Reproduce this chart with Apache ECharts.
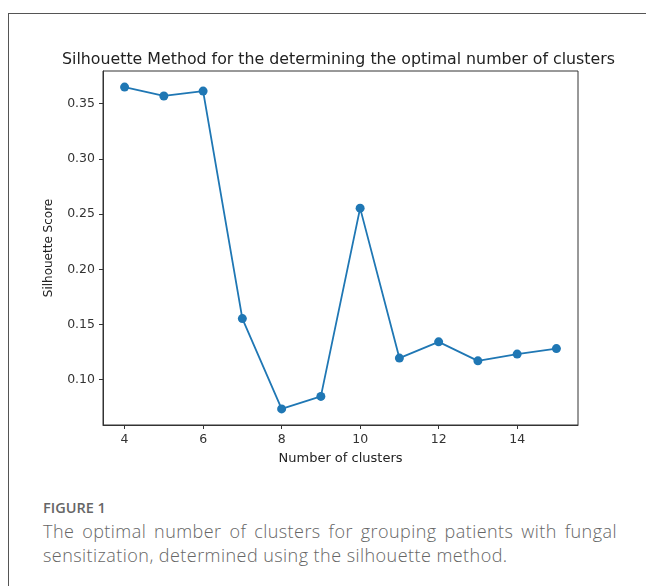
<!DOCTYPE html>
<html>
<head>
<meta charset="utf-8">
<script src="https://cdn.jsdelivr.net/npm/echarts@6/dist/echarts.min.js"></script>
<style>
  html, body { margin: 0; padding: 0; background: #fff; }
  #wrap { position: relative; width: 646px; height: 586px; overflow: hidden; }
  #frame { position: absolute; left: 8px; top: 13px; width: 700px; height: 700px;
           border-left: 1px solid #555; border-top: 1px solid #555; }
  #chart { position: absolute; left: 0; top: 0; width: 646px; height: 480px; }
  #figLabel { position: absolute; left: 43px; top: 498px; font-family: "Open Sans", sans-serif;
              font-weight: 600; font-size: 14.5px; line-height: 20px; color: #666; }
  #figText { position: absolute; left: 43px; top: 519px; width: 574px; font-family: "Open Sans", sans-serif;
             font-weight: 300; font-size: 18px; letter-spacing: 0.45px; line-height: 24px; color: #666;
             text-align: justify; }
</style>
</head>
<body>
<div id="wrap">
  <div id="frame"></div>
  <div id="chart"></div>
  <div id="figLabel">FIGURE 1</div>
  <div id="figText">The optimal number of clusters for grouping patients with fungal sensitization, determined using the silhouette method.</div>
</div>
<script>
// number of clusters vs silhouette score
const clusters = [4, 5, 6, 7, 8, 9, 10, 11, 12, 13, 14, 15]
const scores = [0.365, 0.357, 0.3614, 0.1554, 0.0736, 0.0849, 0.2554, 0.1196, 0.1343, 0.1171, 0.1232, 0.1282]
const xTicks = [4, 6, 8, 10, 12, 14]
const yTicks = [0.10, 0.15, 0.20, 0.25, 0.30, 0.35]

const chart = echarts.init(document.getElementById('chart'))
const blue = '#1f77b4'
const axisColor = '#333'
const font = 'DejaVu Sans'

chart.setOption({
  animation: false,
  title: {
    text: 'Silhouette Method for the determining the optimal number of clusters',
    left: 57,
    top: 47,
    textStyle: { fontFamily: font, fontSize: 15.8, fontWeight: 'normal', color: '#222' }
  },
  grid: {
    left: 103, top: 71, width: 475, height: 354,
    show: true, borderColor: axisColor, borderWidth: 1, backgroundColor: 'transparent'
  },
  xAxis: {
    type: 'value',
    min: 3.45,
    max: 15.55,
    name: 'Number of clusters',
    nameLocation: 'middle',
    nameGap: 27,
    nameTextStyle: { fontFamily: font, fontSize: 13, color: '#222' },
    axisLine: { show: true, onZero: false, lineStyle: { color: axisColor, width: 1 } },
    axisTick: { show: true, length: 4, customValues: xTicks, lineStyle: { color: axisColor } },
    axisLabel: { customValues: xTicks, margin: 8, fontFamily: font, fontSize: 12.5, color: '#333' },
    splitLine: { show: false }
  },
  yAxis: {
    type: 'value',
    min: 0.059,
    max: 0.3796,
    name: 'Silhouette Score',
    nameLocation: 'middle',
    nameGap: 48,
    nameTextStyle: { fontFamily: font, fontSize: 12, color: '#222' },
    axisLine: { show: true, onZero: false, lineStyle: { color: axisColor, width: 1 } },
    axisTick: { show: true, length: 4, customValues: yTicks, lineStyle: { color: axisColor } },
    axisLabel: {
      customValues: yTicks, margin: 8, fontFamily: font, fontSize: 12.5, color: '#333',
      formatter: v => v.toFixed(2)
    },
    splitLine: { show: false }
  },
  series: [
    {
      type: 'line',
      data: clusters.map((c, i) => [c, scores[i]]),
      symbol: 'circle',
      symbolSize: 9,
      lineStyle: { color: blue, width: 1.8 },
      itemStyle: { color: blue }
    }
  ]
})
</script>
</body>
</html>
